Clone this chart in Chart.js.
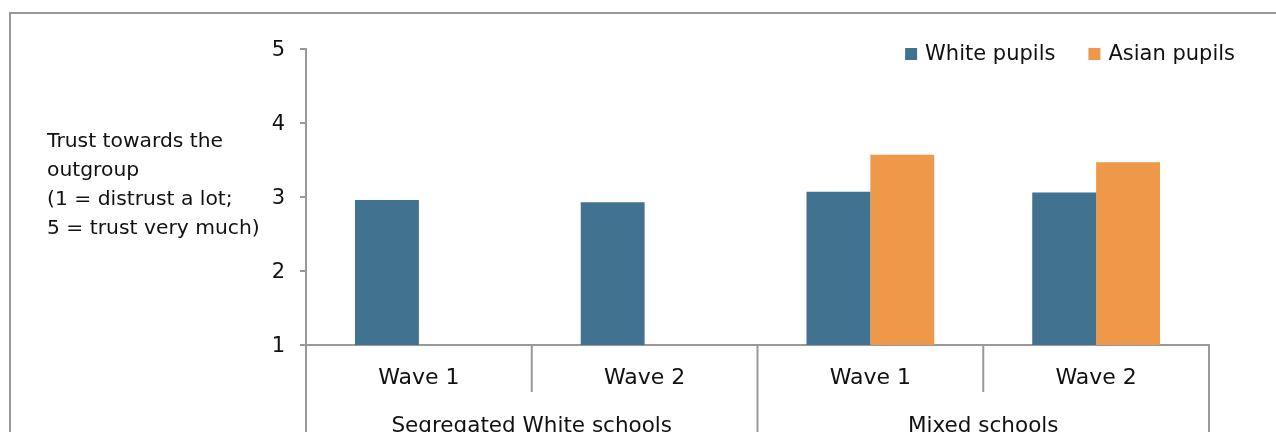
<!DOCTYPE html>
<html>
<head>
<meta charset="utf-8">
<script src="https://cdn.jsdelivr.net/npm/chart.js@4.4.0/dist/chart.umd.min.js"></script>
<style>
  html, body { margin: 0; padding: 0; background: #fff; overflow: hidden; }
  #frame { position: absolute; left: 9px; top: 12px; width: 1300px; height: 480px;
           border-left: 2px solid #999; border-top: 2px solid #999; }
  #wrap { position: absolute; left: 0; top: 0; width: 1276px; height: 470px; }
</style>
</head>
<body>
<div id="frame"></div>
<div id="wrap"><canvas id="canv"></canvas></div>
<script>
const waves = ['Wave 1', 'Wave 2', 'Wave 1', 'Wave 2'];
const groups = ['Segregated White schools', 'Mixed schools'];
const whitePupils = [2.96, 2.93, 3.07, 3.06];
const asianPupils = [null, null, 3.57, 3.47];
const yTicks = [1, 2, 3, 4, 5];
const yTitle = ['Trust towards the', 'outgroup', '(1 = distrust a lot;', '5 = trust very much)'];

const FONT = "'DejaVu Sans', sans-serif";
const AXIS = '#999999';

// group / wave divider lines under the x axis
const dividers = {
    id: 'dividers',
    afterDraw(chart) {
        const x = chart.scales.x;
        const ctx = chart.ctx;
        const n = waves.length;
        const perGroup = n / groups.length;
        ctx.save();
        ctx.strokeStyle = AXIS;
        ctx.lineWidth = 2;
        for (let i = 0; i <= n; i++) {
            let px;
            if (i === 0) px = x.left;
            else if (i === n) px = x.right;
            else px = (x.getPixelForValue(i - 1) + x.getPixelForValue(i)) / 2;
            const bottom = (i % perGroup === 0) ? chart.height : x.bottom;
            ctx.beginPath();
            ctx.moveTo(px, x.top);
            ctx.lineTo(px, bottom);
            ctx.stroke();
        }
        ctx.restore();
    }
};

// horizontal y title on the left
const sideTitle = {
    id: 'sideTitle',
    afterDraw(chart) {
        const y = chart.scales.y;
        const ctx = chart.ctx;
        ctx.save();
        ctx.font = '20.3px ' + FONT;
        ctx.fillStyle = '#111';
        ctx.textBaseline = 'alphabetic';
        const base = y.getPixelForValue(3) - 50;
        yTitle.forEach((line, i) => ctx.fillText(line, y.left + 47, base + i * 29));
        ctx.restore();
    }
};

// legend at top right, overlapping the plot like the original
const topLegend = {
    id: 'topLegend',
    afterDraw(chart) {
        const ctx = chart.ctx;
        ctx.save();
        ctx.font = '21px ' + FONT;
        ctx.textBaseline = 'middle';
        const items = chart.data.datasets.map(ds => ({
            label: ds.label, color: ds.backgroundColor, w: ctx.measureText(ds.label).width
        }));
        const box = 12, gap = 8, between = 33;
        let total = 0;
        items.forEach((it, i) => { total += box + gap + it.w + (i ? between : 0); });
        let xPos = chart.width - 41 - total;
        const yMid = chart.scales.y.top + 5;
        items.forEach((it, i) => {
            if (i) xPos += between;
            ctx.fillStyle = it.color;
            ctx.fillRect(xPos, yMid - box / 2, box, box);
            xPos += box + gap;
            ctx.fillStyle = '#111';
            ctx.fillText(it.label, xPos, yMid + 1);
            xPos += it.w;
        });
        ctx.restore();
    }
};

const ctx = document.getElementById('canv').getContext('2d');
new Chart(ctx, {
    type: 'bar',
    data: {
        labels: waves,
        datasets: [
            { label: 'White pupils', data: whitePupils, backgroundColor: '#41728f', borderWidth: 0 },
            { label: 'Asian pupils', data: asianPupils, backgroundColor: '#ee984a', borderWidth: 0 }
        ]
    },
    options: {
        responsive: true,
        maintainAspectRatio: false,
        animation: false,
        categoryPercentage: 0.566,
        barPercentage: 1.0,
        layout: { padding: { top: 49, right: 67, bottom: 0, left: 0 } },
        plugins: {
            legend: { display: false },
            tooltip: { enabled: false }
        },
        scales: {
            y: {
                min: 1,
                max: 5,
                afterFit: s => { s.width = 306; },
                afterBuildTicks: s => { s.ticks = yTicks.map(v => ({ value: v })); },
                ticks: { color: '#111', font: { family: FONT, size: 21 }, padding: 15, labelOffset: 2 },
                grid: { drawOnChartArea: false, drawTicks: true, tickLength: 6, color: AXIS, lineWidth: 2 },
                border: { color: AXIS, width: 2 }
            },
            x: {
                weight: 0,
                afterFit: s => { s.height = 47; },
                ticks: { color: '#111', font: { family: FONT, size: 22 }, padding: 12, maxRotation: 0 },
                grid: { display: false },
                border: { color: AXIS, width: 2 }
            },
            x2: {
                type: 'category',
                position: 'bottom',
                weight: 1,
                labels: groups,
                offset: true,
                afterFit: s => { s.height = 78; },
                ticks: { color: '#111', font: { family: FONT, size: 21.5 }, padding: 14, maxRotation: 0 },
                grid: { display: false },
                border: { display: false }
            }
        }
    },
    plugins: [dividers, sideTitle, topLegend]
});
</script>
</body>
</html>
